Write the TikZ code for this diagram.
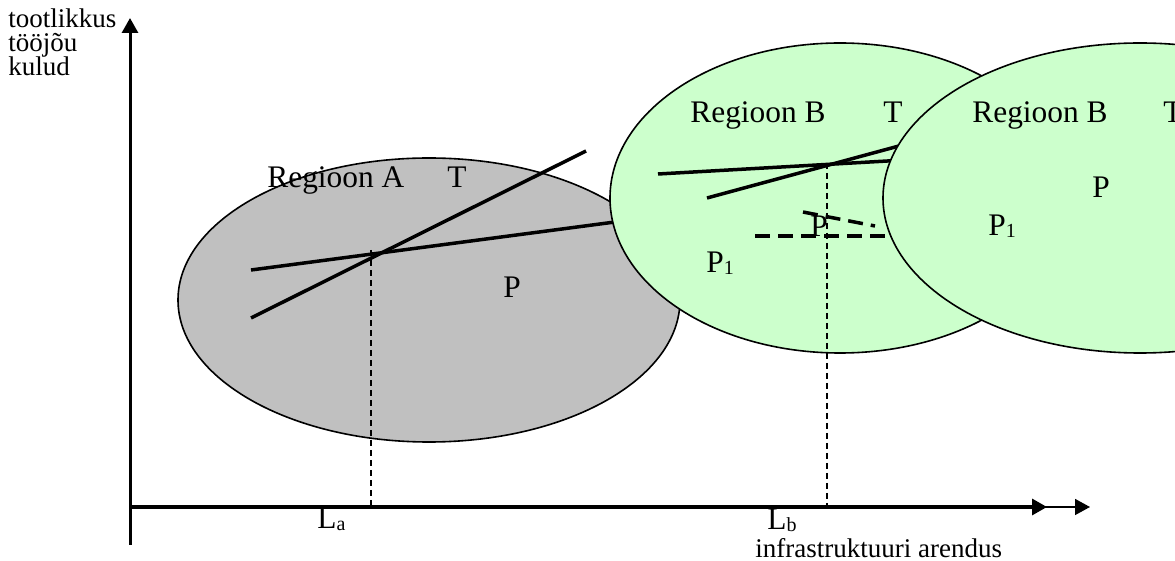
\documentclass[tikz,border=0pt]{standalone}
\usepackage{fontspec}
\setmainfont{Liberation Serif}
\usetikzlibrary{arrows.meta,shapes.geometric}
\definecolor{lgreen}{RGB}{204,255,204}
\definecolor{lgray}{RGB}{192,192,192}
\newcommand\mysub[1]{{\fontsize{10}{12}\selectfont\raisebox{-1pt}{#1}}}
\begin{document}
\begin{tikzpicture}[x=0.5pt,y=-0.5pt,
  region/.style={ellipse,draw=black,line width=0.8pt,inner sep=0pt},
  curve/.style={line width=1.75pt},
  guide/.style={line width=0.75pt,dash pattern=on 3pt off 2pt},
  shiftline/.style={line width=1.75pt,dash pattern=on 7.5pt off 4pt},
  big/.style={font=\fontsize{15.7}{18}\selectfont,inner sep=0pt,anchor=base west},
  small/.style={font=\fontsize{13.5}{16}\selectfont,inner sep=0pt,anchor=base west},
  tip/.style={-{Triangle[length=7.5pt,width=8pt]}}]
\useasboundingbox (0,0) rectangle (1175,561);

% region A
\node[region,fill=lgray,minimum width=251pt,minimum height=142pt] (regA) at (429,300) {};
\coordinate (AT1) at (251,318); \coordinate (AT2) at (586,151);
\coordinate (AP1) at (251,270); \coordinate (AP2) at (615,222);
\coordinate (AX) at (371,250); \coordinate (La) at (371,507);
\draw[curve] (AT1) -- (AT2);
\draw[curve] (AP1) -- (AP2);
\draw[guide] (AX) -- (La);

% region B (first)
\node[region,fill=lgreen,minimum width=230pt,minimum height=155pt] (regB) at (840,198) {};
\coordinate (BP1) at (658,174); \coordinate (BP2) at (905,160);
\coordinate (BT1) at (707,198); \coordinate (BT2) at (910,143);
\coordinate (BX) at (827,163); \coordinate (Lb) at (827,507);
\coordinate (S1) at (803,212); \coordinate (S2) at (875,226);
\coordinate (S3) at (755,236); \coordinate (S4) at (905,236);
\draw[curve] (BP1) -- (BP2);
\draw[curve] (BT1) -- (BT2);
\draw[shiftline] (S1) -- (S2);
\draw[shiftline] (S3) -- (S4);
\draw[guide] (BX) -- (Lb);

% region B (second)
\node[region,fill=lgreen,minimum width=257pt,minimum height=155pt] (regC) at (1140,198) {};

% axes
\coordinate (O) at (130,507);
\coordinate (ybot) at (130,545); \coordinate (ytop) at (130,18);
\coordinate (xend1) at (1047,507); \coordinate (xend2) at (1090,507);
\draw[line width=1.5pt,tip] (ybot) -- (ytop);
\draw[line width=1.6pt,tip] (O) -- (xend1);
\draw[line width=0.8pt,tip] (1040,507) -- (xend2);

% texts
\node[big] (tA) at (267,188) {Regioon A};
\node[big] (tAT) at (447,188) {T};
\node[big] (tAP) at (503,298) {P};
\node[big] (tB) at (690,123) {Regioon B};
\node[big] (tBT) at (883,123) {T};
\node[big] (tBP) at (810,237) {P};
\node[big] (tBP1) at (706,273) {P\mysub{1}};
\node[big] (tC) at (972,123) {Regioon B};
\node[big] (tCT) at (1163,123) {T};
\node[big] (tCP) at (1092,198) {P};
\node[big] (tCP1) at (988,236) {P\mysub{1}};

\node[small] (y1) at (8,28) {tootlikkus};
\node[small] (y2) at (8,52) {tööjõu};
\node[small] (y3) at (8,76) {kulud};
\node[big] (la) at (317,529) {L\mysub{a}};
\node[big] (lb) at (767,530) {L\mysub{b}};
\node[small] (xl) at (755,558) {infrastruktuuri arendus};
\end{tikzpicture}
\end{document}
